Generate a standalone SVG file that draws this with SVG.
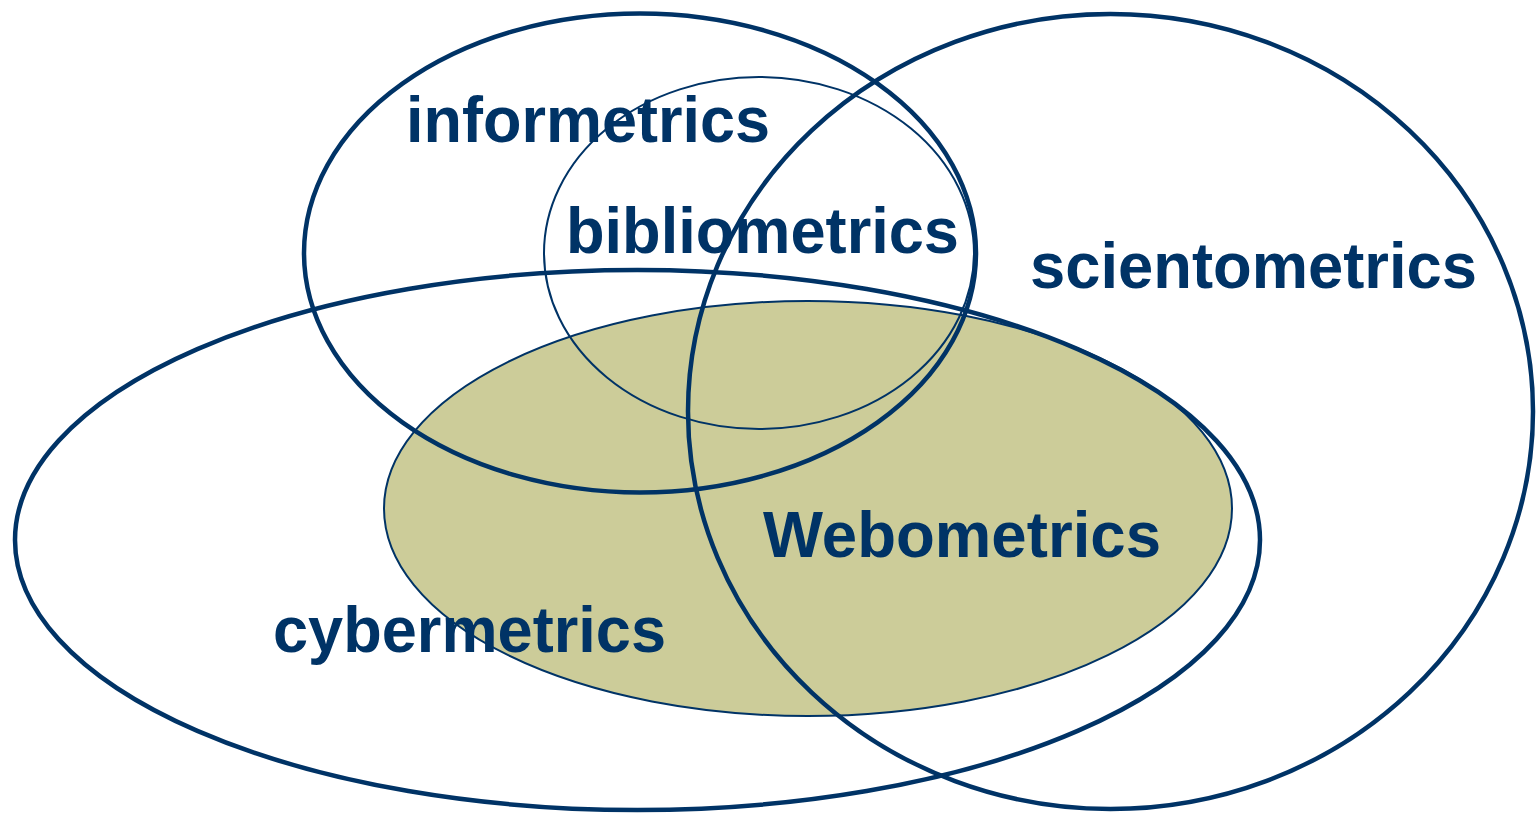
<svg xmlns="http://www.w3.org/2000/svg" width="1540" height="815" viewBox="0 0 1540 815">
<style>
.thick{fill:none;stroke:#003366;stroke-width:4.5}
.thin{fill:none;stroke:#003366;stroke-width:2}
.lbl{font-family:"Liberation Sans",Arial,sans-serif;font-weight:bold;font-size:65px;fill:#003366}
</style>
<rect width="1540" height="815" fill="#ffffff"/>
<g id="webometrics">
<ellipse cx="808" cy="508.5" rx="424" ry="207.5" fill="#CCCC99" stroke="#003366" stroke-width="2"/>
</g>
<g id="bibliometrics">
<ellipse class="thin" cx="759" cy="253" rx="215" ry="176"/>
</g>
<g id="informetrics">
<ellipse class="thick" cx="640" cy="253" rx="336" ry="239.5"/>
</g>
<g id="scientometrics">
<ellipse class="thick" cx="1110.5" cy="411.5" rx="422.5" ry="397.5"/>
</g>
<g id="cybermetrics">
<ellipse class="thick" cx="637.5" cy="540" rx="622.5" ry="270"/>
</g>
<g id="labels">
<text class="lbl" x="406" y="142" textLength="364" lengthAdjust="spacingAndGlyphs">informetrics</text>
<text class="lbl" x="566" y="253" textLength="393" lengthAdjust="spacingAndGlyphs">bibliometrics</text>
<text class="lbl" x="1030" y="288" textLength="447" lengthAdjust="spacingAndGlyphs">scientometrics</text>
<text class="lbl" x="763" y="557" textLength="398" lengthAdjust="spacingAndGlyphs">Webometrics</text>
<text class="lbl" x="273" y="652" textLength="393" lengthAdjust="spacingAndGlyphs">cybermetrics</text>
</g>
</svg>
